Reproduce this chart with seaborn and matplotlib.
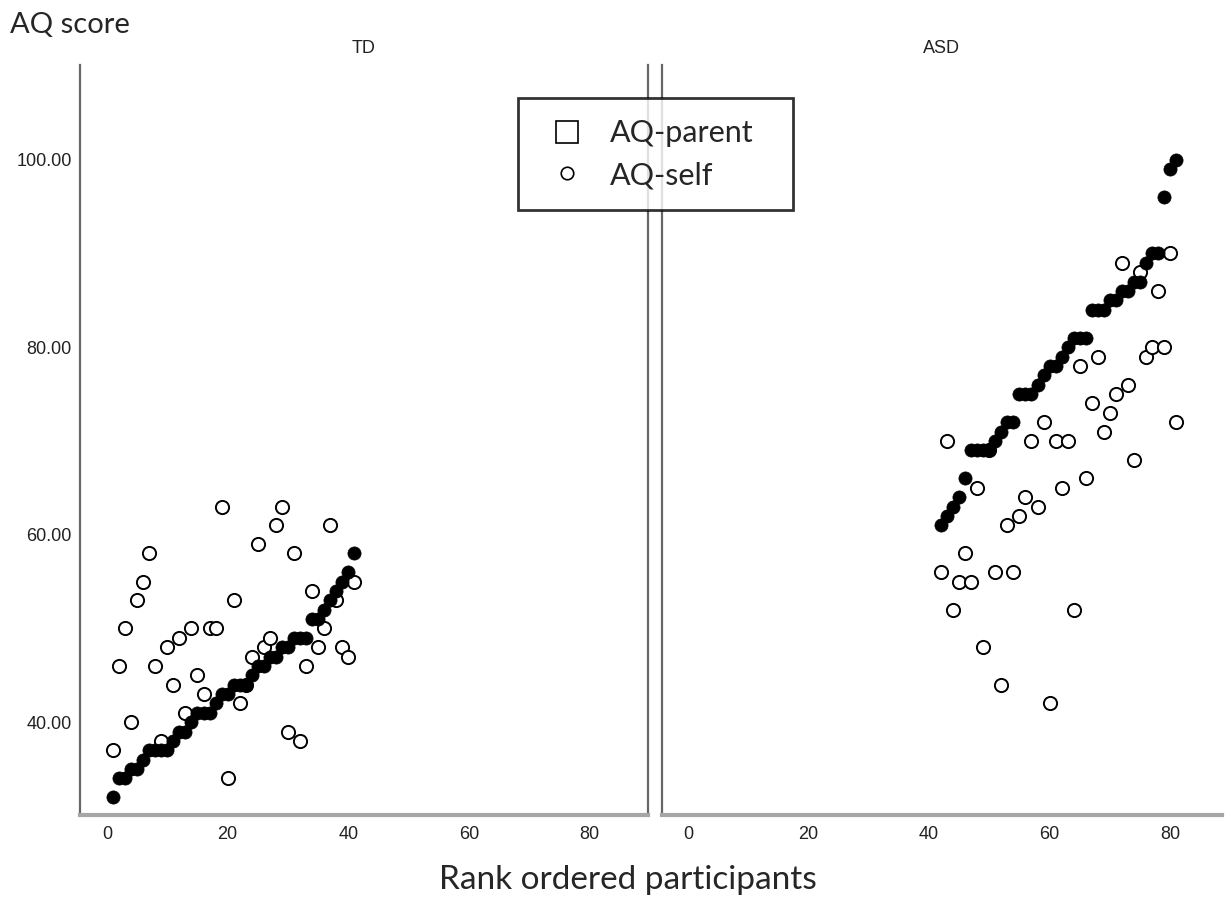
import pandas as pd
import matplotlib.pyplot as plt
import seaborn as sns
import numpy as np
from matplotlib.lines import Line2D

# rank ordered participants (by parent score)
td_rank = list(range(1, 42))
td_parent = [32, 34, 34, 35, 35, 36, 37, 37, 37, 37, 38, 39, 39, 40, 41, 41, 41, 42, 43, 43,
             44, 44, 44, 45, 46, 46, 47, 47, 48, 48, 49, 49, 49, 51, 51, 52, 53, 54, 55, 56, 58]
td_self = [37, 46, 50, 40, 53, 55, 58, 46, 38, 48, 44, 49, 41, 50, 45, 43, 50, 50, 63, 34,
           53, 42, 44, 47, 59, 48, 49, 61, 63, 39, 58, 38, 46, 54, 48, 50, 61, 53, 48, 47, 55]

asd_rank = list(range(42, 82))
asd_parent = [61, 62, 63, 64, 66, 69, 69, 69, 69, 70, 71, 72, 72, 75, 75, 75, 76, 77, 78, 78,
              79, 80, 81, 81, 81, 84, 84, 84, 85, 85, 86, 86, 87, 87, 89, 90, 90, 96, 99, 100]
asd_self = [56, 70, 52, 55, 58, 55, 65, 48, 69, 56, 44, 61, 56, 62, 64, 70, 63, 72, 42, 70,
            65, 70, 52, 78, 66, 74, 79, 71, 73, 75, 89, 76, 68, 88, 79, 80, 86, 80, 90, 72]

groups = ['TD', 'ASD']
x_ticks = [0, 20, 40, 60, 80]
y_ticks = [40, 60, 80, 100]

df = pd.concat([
    pd.DataFrame({'rank': td_rank, 'parent': td_parent, 'self': td_self, 'group': 'TD'}),
    pd.DataFrame({'rank': asd_rank, 'parent': asd_parent, 'self': asd_self, 'group': 'ASD'}),
])

sns.set_style('white')
plt.rcParams['font.family'] = ['Liberation Sans', 'DejaVu Sans']

fig = plt.figure(figsize=(12.27, 8.98), dpi=100)
ax_l = fig.add_axes([0.0652, 0.0924, 0.4629, 0.8352])
ax_r = fig.add_axes([0.5395, 0.0924, 0.4564, 0.8352])

for ax, grp, xlim in [(ax_l, 'TD', (-4.48, 89.7)), (ax_r, 'ASD', (-4.3, 88.6))]:
    d = df[df['group'] == grp]
    sns.scatterplot(data=d, x='rank', y='self', ax=ax, s=90, marker='o',
                    facecolor='white', edgecolor='black', linewidth=1.4, zorder=3)
    sns.scatterplot(data=d, x='rank', y='parent', ax=ax, s=90, marker='o',
                    color='black', edgecolor='black', linewidth=0.5, zorder=4)
    ax.set_xlim(*xlim)
    ax.set_ylim(30.1, 110.1)
    ax.set_xticks(x_ticks)
    ax.set_yticks(y_ticks)
    ax.set_xlabel('')
    ax.set_ylabel('')
    ax.tick_params(axis='both', length=0, labelsize=13, colors='#222222')
    ax.tick_params(axis='x', pad=8)
    ax.tick_params(axis='y', pad=6)
    ax.spines['top'].set_visible(False)
    ax.spines['bottom'].set_color('#a6a6a6')
    ax.spines['bottom'].set_linewidth(3)
    ax.spines['left'].set_color('#666666')
    ax.spines['left'].set_linewidth(1.6)
    ax.spines['right'].set_color('#666666')
    ax.spines['right'].set_linewidth(1.6)
    ax.set_title(grp, fontsize=13, pad=9, color='#222222')

ax_l.yaxis.set_major_formatter(plt.FuncFormatter(lambda v, p: f'{v:.2f}'))
ax_r.spines['right'].set_visible(False)
ax_r.tick_params(axis='y', labelleft=False)

fig.text(0.008, 0.972, 'AQ score', fontsize=21, family=['Lato', 'DejaVu Sans'], va='center')
fig.text(0.512, 0.02, 'Rank ordered participants', fontsize=24, family=['Lato', 'DejaVu Sans'],
         ha='center', va='center')

handles = [
    Line2D([], [], marker='s', linestyle='none', markersize=16, markerfacecolor='white',
           markeredgecolor='black', markeredgewidth=1.2),
    Line2D([], [], marker='o', linestyle='none', markersize=9, markerfacecolor='white',
           markeredgecolor='black', markeredgewidth=1.2),
]
leg = fig.legend(handles, ['AQ-parent', 'AQ-self'], loc='upper left',
                 bbox_to_anchor=(0.422, 0.768, 0.224, 0.123), mode='expand',
                 frameon=True, fancybox=False,
                 prop={'family': ['Lato', 'DejaVu Sans'], 'size': 22},
                 borderpad=0.7, handlelength=1.8, handletextpad=0.5,
                 labelspacing=0.45, borderaxespad=0)
leg.get_frame().set_edgecolor('black')
leg.get_frame().set_linewidth(2)

fig.savefig('out.png', dpi=100)
